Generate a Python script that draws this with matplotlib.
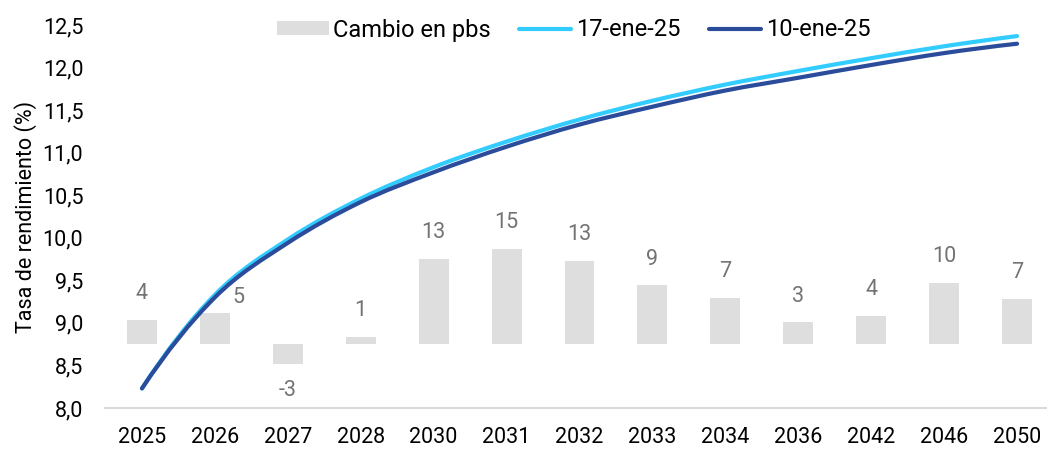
import numpy as np
import matplotlib
matplotlib.use("Agg")
import matplotlib.pyplot as plt
from matplotlib.path import Path
from matplotlib.patches import PathPatch

plt.rcParams["font.family"] = ["Roboto", "DejaVu Sans"]

tenors = ["2025", "2026", "2027", "2028", "2030", "2031", "2032",
          "2033", "2034", "2036", "2042", "2046", "2050"]
curve_17ene = [8.23, 9.33, 9.98, 10.46, 10.83, 11.13, 11.39,
               11.61, 11.80, 11.96, 12.11, 12.25, 12.37]
curve_10ene = [8.23, 9.30, 9.94, 10.42, 10.77, 11.07, 11.33,
               11.54, 11.73, 11.88, 12.03, 12.17, 12.28]
cambio_pbs = [3.8, 4.9, -3.1, 1.1, 13.3, 14.9, 13.0,
              9.2, 7.3, 3.4, 4.4, 9.6, 7.1]

LIGHT = "#33CCFF"
DARK = "#2B4C9B"
BAR = "#DEDEDE"
FS = 15.5
FS_LEG = 17


def smooth_path(xs, ys):
    # cubic hermite through the points (like a smoothed excel line)
    xs = np.asarray(xs, float)
    ys = np.asarray(ys, float)
    n = len(xs)
    d = np.diff(ys) / np.diff(xs)
    m = np.zeros(n)
    m[1:-1] = (ys[2:] - ys[:-2]) / (xs[2:] - xs[:-2])
    m[0] = 2 * d[0] - m[1]
    m[-1] = 2 * d[-1] - m[-2]
    verts = [(xs[0], ys[0])]
    codes = [Path.MOVETO]
    for i in range(n - 1):
        h = xs[i + 1] - xs[i]
        verts += [(xs[i] + h / 3, ys[i] + m[i] * h / 3),
                  (xs[i + 1] - h / 3, ys[i + 1] - m[i + 1] * h / 3),
                  (xs[i + 1], ys[i + 1])]
        codes += [Path.CURVE4] * 3
    return Path(verts, codes)


fig = plt.figure(figsize=(10.47, 4.49), dpi=100)
ax = fig.add_axes([105.5 / 1047, 41 / 449, 948 / 1047, 383 / 449])
axb = ax.twinx()
axb.set_zorder(ax.get_zorder() - 1)
ax.patch.set_visible(False)

x = np.arange(len(tenors))

# bars on the hidden secondary axis
bars = axb.bar(x, cambio_pbs, width=0.41, color=BAR, label="Cambio en pbs")
axb.set_ylim(-10, 50)
axb.set_yticks([])
for i, (xi, v) in enumerate(zip(x, cambio_pbs)):
    off = (0, 19) if v >= 0 else (0, -19)
    if tenors[i] == "2026":
        # label pushed aside so the curve does not cross it
        off = (17, 11)
    axb.annotate("{:.0f}".format(v), (xi, v), xytext=off,
                 textcoords="offset points", ha="center", va="center",
                 fontsize=FS, color="#737373")

# yield curves
for vals, col, lab in [(curve_17ene, LIGHT, "17-ene-25"),
                       (curve_10ene, DARK, "10-ene-25")]:
    ax.add_patch(PathPatch(smooth_path(x, vals), facecolor="none",
                           edgecolor=col, lw=3, capstyle="round",
                           joinstyle="round", zorder=3))
    ax.plot([], [], color=col, lw=3, solid_capstyle="round", label=lab)

ax.set_xlim(-0.5, len(tenors) - 0.5)
ax.set_ylim(8.0, 12.5)
yt = np.arange(8.0, 12.51, 0.5)
ax.set_yticks(yt)
ax.set_yticklabels(["{:.1f}".format(t).replace(".", ",") for t in yt])
ax.set_xticks(x)
ax.set_xticklabels(tenors)
ax.tick_params(axis="both", length=0, labelsize=FS, colors="black")
ax.tick_params(axis="x", pad=14)
ax.tick_params(axis="y", pad=16)
ax.set_ylabel("Tasa de rendimiento (%)", fontsize=FS, labelpad=4)

for side in ["top", "right", "left"]:
    ax.spines[side].set_visible(False)
    axb.spines[side].set_visible(False)
axb.spines["bottom"].set_visible(False)
ax.spines["bottom"].set_color("#D9D9D9")
ax.spines["bottom"].set_linewidth(1.5)

handles = [bars] + ax.get_legend_handles_labels()[0]
labels = ["Cambio en pbs", "17-ene-25", "10-ene-25"]
fig.legend(handles, labels, loc="center", ncol=3, frameon=False,
           bbox_to_anchor=(573.5 / 1047, 1 - 30 / 449), fontsize=FS_LEG,
           handlelength=2.2, handleheight=0.55, handletextpad=0.2,
           columnspacing=1.2)

fig.savefig("out.png", dpi=100)
